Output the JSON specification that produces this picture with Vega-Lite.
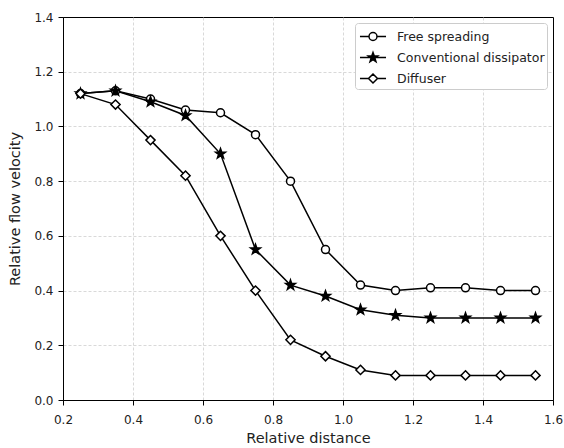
{
  "$schema": "https://vega.github.io/schema/vega-lite/v6.json",
  "autosize": {"type": "none"},
  "padding": {"left": 63, "top": 17, "right": 11, "bottom": 48},
  "width": 490,
  "height": 383,
  "background": "white",
  "config": {
    "view": {"stroke": "black", "strokeWidth": 1},
    "font": "DejaVu Sans",
    "axis": {
      "labelFont": "DejaVu Sans", "labelFontSize": 12, "labelColor": "#222", "labelFlush": false,
      "titleFont": "DejaVu Sans", "titleFontSize": 14.5, "titleFontWeight": "normal", "titleColor": "#222",
      "domainColor": "black", "tickColor": "black", "tickSize": 5,
      "gridColor": "#cfcfcf", "gridDash": [3, 2], "gridWidth": 0.8
    }
  },
  "data": {"values": [
    {"x": 0.25, "y": 1.12, "s": "Free spreading"},
    {"x": 0.35, "y": 1.13, "s": "Free spreading"},
    {"x": 0.45, "y": 1.10, "s": "Free spreading"},
    {"x": 0.55, "y": 1.06, "s": "Free spreading"},
    {"x": 0.65, "y": 1.05, "s": "Free spreading"},
    {"x": 0.75, "y": 0.97, "s": "Free spreading"},
    {"x": 0.85, "y": 0.80, "s": "Free spreading"},
    {"x": 0.95, "y": 0.55, "s": "Free spreading"},
    {"x": 1.05, "y": 0.42, "s": "Free spreading"},
    {"x": 1.15, "y": 0.40, "s": "Free spreading"},
    {"x": 1.25, "y": 0.41, "s": "Free spreading"},
    {"x": 1.35, "y": 0.41, "s": "Free spreading"},
    {"x": 1.45, "y": 0.40, "s": "Free spreading"},
    {"x": 1.55, "y": 0.40, "s": "Free spreading"},
    {"x": 0.25, "y": 1.12, "s": "Conventional dissipator"},
    {"x": 0.35, "y": 1.13, "s": "Conventional dissipator"},
    {"x": 0.45, "y": 1.09, "s": "Conventional dissipator"},
    {"x": 0.55, "y": 1.04, "s": "Conventional dissipator"},
    {"x": 0.65, "y": 0.90, "s": "Conventional dissipator"},
    {"x": 0.75, "y": 0.55, "s": "Conventional dissipator"},
    {"x": 0.85, "y": 0.42, "s": "Conventional dissipator"},
    {"x": 0.95, "y": 0.38, "s": "Conventional dissipator"},
    {"x": 1.05, "y": 0.33, "s": "Conventional dissipator"},
    {"x": 1.15, "y": 0.31, "s": "Conventional dissipator"},
    {"x": 1.25, "y": 0.30, "s": "Conventional dissipator"},
    {"x": 1.35, "y": 0.30, "s": "Conventional dissipator"},
    {"x": 1.45, "y": 0.30, "s": "Conventional dissipator"},
    {"x": 1.55, "y": 0.30, "s": "Conventional dissipator"},
    {"x": 0.25, "y": 1.12, "s": "Diffuser"},
    {"x": 0.35, "y": 1.08, "s": "Diffuser"},
    {"x": 0.45, "y": 0.95, "s": "Diffuser"},
    {"x": 0.55, "y": 0.82, "s": "Diffuser"},
    {"x": 0.65, "y": 0.60, "s": "Diffuser"},
    {"x": 0.75, "y": 0.40, "s": "Diffuser"},
    {"x": 0.85, "y": 0.22, "s": "Diffuser"},
    {"x": 0.95, "y": 0.16, "s": "Diffuser"},
    {"x": 1.05, "y": 0.11, "s": "Diffuser"},
    {"x": 1.15, "y": 0.09, "s": "Diffuser"},
    {"x": 1.25, "y": 0.09, "s": "Diffuser"},
    {"x": 1.35, "y": 0.09, "s": "Diffuser"},
    {"x": 1.45, "y": 0.09, "s": "Diffuser"},
    {"x": 1.55, "y": 0.09, "s": "Diffuser"}
  ]},
  "encoding": {
    "x": {"field": "x", "type": "quantitative", "title": "Relative distance",
      "scale": {"domain": [0.2, 1.6], "nice": false, "zero": false},
      "axis": {"values": [0.2, 0.4, 0.6, 0.8, 1.0, 1.2, 1.4, 1.6], "format": ".1f", "labelPadding": 9, "titlePadding": 6,
        "gridOpacity": {"condition": {"test": "datum.value >= 1.59 || datum.value <= 0.21", "value": 0}, "value": 1}}},
    "y": {"field": "y", "type": "quantitative", "title": "Relative flow velocity",
      "scale": {"domain": [0, 1.4], "nice": false},
      "axis": {"values": [0, 0.2, 0.4, 0.6, 0.8, 1.0, 1.2, 1.4], "format": ".1f", "labelPadding": 5, "titlePadding": 11,
        "gridOpacity": {"condition": {"test": "datum.value >= 1.39 || datum.value <= 0.01", "value": 0}, "value": 1}}}
  },
  "resolve": {"scale": {"shape": "independent"}, "legend": {"shape": "independent"}},
  "layer": [
    {
      "mark": {"type": "line", "color": "black", "strokeWidth": 1.5},
      "encoding": {"detail": {"field": "s"}}
    },
    {
      "mark": {"type": "point", "filled": true, "stroke": "black", "strokeWidth": 1.5, "opacity": 1, "size": 64},
      "encoding": {
        "shape": {"field": "s", "type": "nominal", "legend": null,
          "scale": {"domain": ["Free spreading", "Conventional dissipator", "Diffuser"],
            "range": ["circle", "M0,-1.3L0.306,-0.421L1.236,-0.402L0.494,0.161L0.764,1.052L0,0.52L-0.764,1.052L-0.494,0.161L-1.236,-0.402L-0.306,-0.421Z", "M0,-1.15L1.15,0L0,1.15L-1.15,0Z"]}},
        "fill": {"field": "s", "type": "nominal", "legend": null,
          "scale": {"domain": ["Free spreading", "Conventional dissipator", "Diffuser"], "range": ["white", "black", "white"]}}
      }
    },
    {
      "transform": [{"filter": "false"}],
      "mark": {"type": "point", "filled": false, "color": "black", "strokeWidth": 1.5, "opacity": 1},
      "encoding": {
        "shape": {"field": "s", "type": "nominal", "title": null,
          "sort": ["Free spreading", "Conventional dissipator", "Diffuser"],
          "scale": {"domain": ["Free spreading", "Conventional dissipator", "Diffuser"],
            "range": [
              "M-1.24,0H-0.38M0.38,0H1.24M0.38,0A0.38,0.38,0,1,1,-0.38,0A0.38,0.38,0,1,1,0.38,0Z",
              "M-1.24,0H1.24M0,-0.48L0.113,-0.156L0.456,-0.148L0.182,0.06L0.282,0.388L0,0.192L-0.282,0.388L-0.182,0.06L-0.456,-0.148L-0.113,-0.156ZM0,-0.36L0.085,-0.117L0.342,-0.111L0.137,0.045L0.212,0.291L0,0.144L-0.212,0.291L-0.137,0.045L-0.342,-0.111L-0.085,-0.117ZM0,-0.24L0.057,-0.078L0.228,-0.074L0.091,0.03L0.141,0.194L0,0.096L-0.141,0.194L-0.091,0.03L-0.228,-0.074L-0.057,-0.078ZM0,-0.12L0.028,-0.039L0.114,-0.037L0.046,0.015L0.071,0.097L0,0.048L-0.071,0.097L-0.046,0.015L-0.114,-0.037L-0.028,-0.039Z",
              "M-1.24,0H-0.43M0.43,0H1.24M0,-0.43L0.43,0L0,0.43L-0.43,0Z"
            ]},
          "legend": {
            "orient": "none", "legendX": 292, "legendY": 6,
            "symbolSize": 441, "symbolOffset": 4.5, "symbolStrokeWidth": 1.5, "symbolStrokeColor": "black",
            "symbolFillColor": "white", "symbolOpacity": 1,
            "labelFontSize": 12.5, "labelFont": "DejaVu Sans", "labelColor": "#222", "labelOffset": 12.5,
            "rowPadding": 2, "padding": 2,
            "fillColor": "white", "strokeColor": "#cccccc", "cornerRadius": 3
          }
        }
      }
    }
  ]
}
